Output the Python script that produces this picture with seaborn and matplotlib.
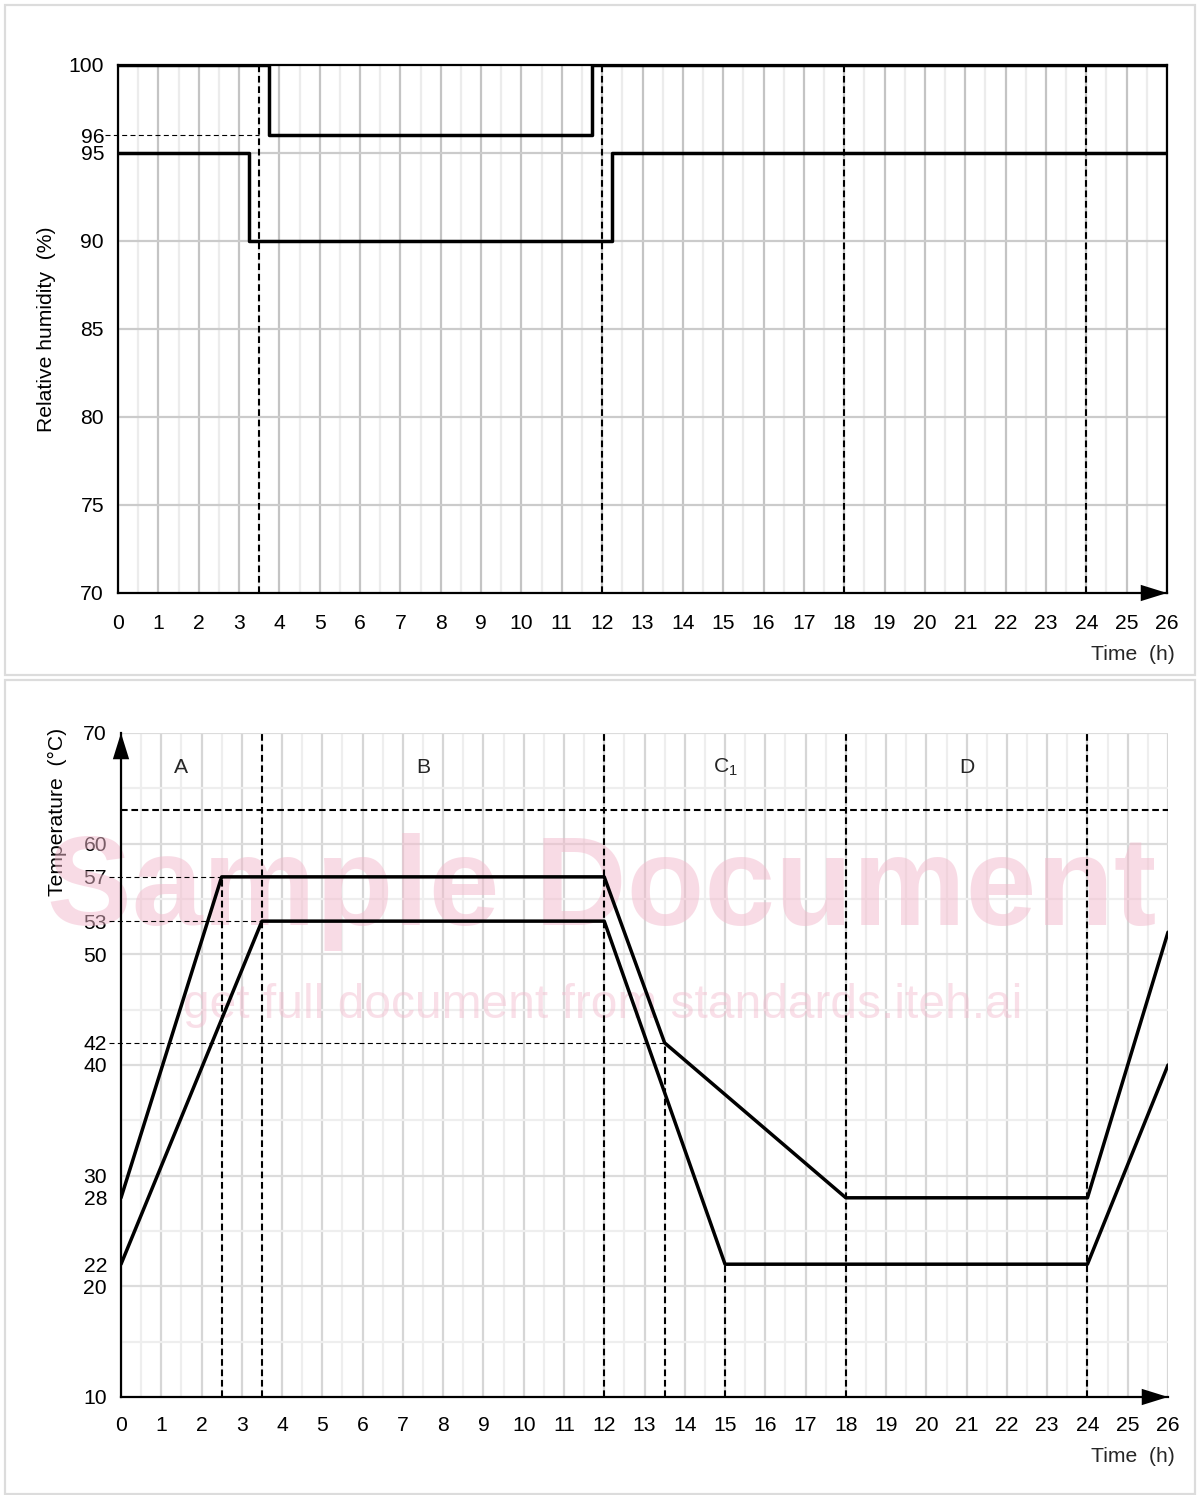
import numpy as np
import pandas as pd
import matplotlib
matplotlib.use("Agg")
import matplotlib.pyplot as plt
import seaborn as sns
from matplotlib.patches import Rectangle

# ---- data -------------------------------------------------------------
# Relative humidity limits (step profile)
rh_time_upper = [0, 3.75, 3.75, 11.75, 11.75, 26]
rh_upper = [100, 100, 96, 96, 100, 100]
rh_time_lower = [0, 3.25, 3.25, 12.25, 12.25, 26]
rh_lower = [95, 95, 90, 90, 95, 95]

# Temperature limits
temp_time_upper = [0, 2.5, 12, 13.5, 18, 24, 26]
temp_upper = [28, 57, 57, 42, 28, 28, 52]
temp_time_lower = [0, 3.5, 12, 15, 24, 26]
temp_lower = [22, 53, 53, 22, 22, 40]

hour_ticks = list(range(27))
rh_ticks = [70, 75, 80, 85, 90, 95, 96, 100]
temp_ticks = [10, 20, 22, 28, 30, 40, 42, 50, 53, 57, 60, 70]

phase_bounds = [3.5, 12, 18, 24]
phase_names = ["A", "B", r"$\mathregular{C_1}$", "D"]
phase_centres = [1.5, 7.5, 15, 21]
temp_ceiling = 63

# ---- style ------------------------------------------------------------
sns.set_theme(style="white")
plt.rcParams["font.family"] = ["Liberation Sans", "DejaVu Sans"]
plt.rcParams["mathtext.fontset"] = "custom"
plt.rcParams["mathtext.rm"] = "Liberation Sans"

W, H = 1198, 1495
fig = plt.figure(figsize=(W / 100, H / 100), dpi=100)
fig.patch.set_facecolor("white")

FS = 15.2
LW_DATA = 2.5
DASH_BOLD = dict(color="black", lw=1.5, linestyle=(0, (3.2, 1.8)))
DASH_THIN = dict(color="black", lw=0.8, linestyle=(0, (4.5, 3)))


def px_axes(left, top, right, bottom):
    return fig.add_axes([left / W, 1 - bottom / H, (right - left) / W, (bottom - top) / H])


def add_arrow(ax, start, end):
    ax.annotate("", xy=end, xytext=start, xycoords="axes fraction",
                textcoords="axes fraction", annotation_clip=False,
                arrowprops=dict(arrowstyle="-|>,head_length=1.35,head_width=0.42",
                                color="black", lw=0, mutation_scale=14,
                                shrinkA=0, shrinkB=0), zorder=6)


# panel frames
for top, bottom in [(5, 675), (680, 1494)]:
    fig.add_artist(Rectangle((5 / W, 1 - bottom / H), (1195 - 5) / W, (bottom - top) / H,
                             transform=fig.transFigure, fill=False,
                             ec="#dcdcdc", lw=1.6))

# ---- humidity panel ---------------------------------------------------
ax1 = px_axes(118, 65, 1167, 593)
ax1.set_xlim(0, 26)
ax1.set_ylim(70, 100)

for h in np.arange(0, 26.01, 0.5):
    major = float(h).is_integer()
    ax1.axvline(h, color="#c4c4c4" if major else "#ececec", lw=1.6, zorder=0.5)
for v in range(75, 100, 5):
    ax1.axhline(v, color="#cbcbcb", lw=1.6, zorder=0.5)

for b in phase_bounds:
    ax1.vlines(b, 70, 100, zorder=2, **DASH_BOLD)
ax1.plot([-0.33, 3.5], [96, 96], clip_on=False, zorder=2, **DASH_THIN)

rh_up = pd.DataFrame({"t": rh_time_upper, "rh": rh_upper})
rh_lo = pd.DataFrame({"t": rh_time_lower, "rh": rh_lower})
sns.lineplot(data=rh_up, x="t", y="rh", ax=ax1, color="black", lw=LW_DATA,
             sort=False, estimator=None, zorder=4)
sns.lineplot(data=rh_lo, x="t", y="rh", ax=ax1, color="black", lw=LW_DATA,
             sort=False, estimator=None, zorder=4)

ax1.set_xticks(hour_ticks)
ax1.set_yticks(rh_ticks)
ax1.tick_params(axis="x", length=0, pad=15, labelsize=FS, colors="black")
ax1.tick_params(axis="y", length=0, pad=10, labelsize=FS, colors="black")
ax1.set_xlabel("")
ax1.set_ylabel("Relative humidity  (%)", fontsize=FS, color="black")
ax1.yaxis.set_label_coords(-0.0595, 0.5)
for s in ax1.spines.values():
    s.set_color("black")
    s.set_linewidth(1.6)
    s.set_zorder(5)
add_arrow(ax1, (0.97, 0), (1.0, 0))
fig.text(1175 / W, 1 - 655 / H, "Time  (h)", ha="right", va="center", fontsize=FS)

# ---- temperature panel ------------------------------------------------
ax2 = px_axes(121, 733, 1168, 1397)
ax2.set_xlim(0, 26)
ax2.set_ylim(10, 70)

for h in np.arange(0, 26.01, 0.5):
    major = float(h).is_integer()
    ax2.axvline(h, color="#d6d6d6" if major else "#eeeeee", lw=1.6, zorder=0.5)
for v in range(15, 71, 5):
    ax2.axhline(v, color="#dcdcdc" if v % 10 == 0 else "#eeeeee", lw=1.6, zorder=0.5)

# watermark
ax2.text(602 / W, 1 - 925 / H, "Sample Document", transform=fig.transFigure,
         ha="center", va="baseline", fontsize=91.5, fontweight="bold",
         color="#f2b9cc", alpha=0.5, zorder=1, clip_on=False)
ax2.text(603 / W, 1 - 1018 / H, "get full document from standards.iteh.ai",
         transform=fig.transFigure, ha="center", va="baseline", fontsize=34.5,
         color="#f2b9cc", alpha=0.45, zorder=1, clip_on=False)

# phase boundaries and reference levels
for b in phase_bounds:
    ax2.vlines(b, 10, 70, zorder=2, **DASH_BOLD)
ax2.vlines(temp_time_upper[1], 10, temp_upper[1], zorder=2, **DASH_BOLD)
ax2.vlines(temp_time_upper[3], 10, temp_upper[3], zorder=2, **DASH_BOLD)
ax2.vlines(temp_time_lower[3], 10, temp_lower[3], zorder=2, **DASH_BOLD)
ax2.hlines(temp_ceiling, 0, 26, zorder=2, **DASH_BOLD)
ax2.plot([-0.3, temp_time_upper[1]], [temp_upper[1]] * 2, clip_on=False, zorder=2, **DASH_THIN)
ax2.plot([-0.3, temp_time_lower[1]], [temp_lower[1]] * 2, clip_on=False, zorder=2, **DASH_THIN)
ax2.plot([-0.3, temp_time_upper[3]], [temp_upper[3]] * 2, clip_on=False, zorder=2, **DASH_THIN)

t_up = pd.DataFrame({"t": temp_time_upper, "temp": temp_upper})
t_lo = pd.DataFrame({"t": temp_time_lower, "temp": temp_lower})
sns.lineplot(data=t_up, x="t", y="temp", ax=ax2, color="black", lw=LW_DATA,
             sort=False, estimator=None, zorder=4)
sns.lineplot(data=t_lo, x="t", y="temp", ax=ax2, color="black", lw=LW_DATA,
             sort=False, estimator=None, zorder=4)

for name, xc in zip(phase_names, phase_centres):
    ax2.text(xc, 66.9, name, ha="center", va="center", fontsize=FS, zorder=5)

ax2.set_xticks(hour_ticks)
ax2.set_yticks(temp_ticks)
ax2.tick_params(axis="x", length=0, pad=13.5, labelsize=FS, colors="black")
ax2.tick_params(axis="y", length=0, pad=10, labelsize=FS, colors="black")
ax2.set_xlabel("")
ax2.set_ylabel("Temperature  (°C)", fontsize=FS, color="black")
ax2.yaxis.set_label_coords(-0.0516, 0.881)
for side in ["top", "right"]:
    ax2.spines[side].set_visible(False)
for side in ["left", "bottom"]:
    ax2.spines[side].set_color("black")
    ax2.spines[side].set_linewidth(1.6)
    ax2.spines[side].set_zorder(5)
add_arrow(ax2, (0.97, 0), (1.0, 0))
add_arrow(ax2, (0, 0.96), (0, 1.0))
fig.text(1175 / W, 1 - 1456 / H, "Time  (h)", ha="right", va="center", fontsize=FS)

fig.savefig("out.png", dpi=100, facecolor="white")
